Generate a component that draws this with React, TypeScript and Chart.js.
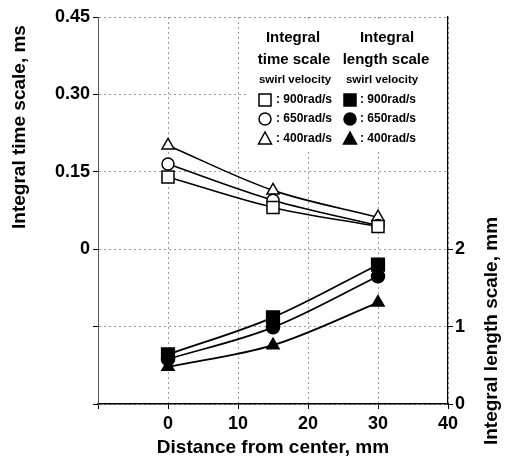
import React, { useEffect, useRef } from 'react';
import { Chart, registerables } from 'chart.js';

Chart.register(...registerables);

const FONT = "'Liberation Sans', Arial, Helvetica, sans-serif";

// ---- data ----
const distances = [0, 15, 30];
const timeScale900 = [0.14, 0.081, 0.044];
const timeScale650 = [0.165, 0.095, 0.046];
const timeScale400 = [0.201, 0.114, 0.062];
const lengthScale900 = [0.64, 1.12, 1.8];
const lengthScale650 = [0.58, 0.99, 1.65];
const lengthScale400 = [0.48, 0.76, 1.31];

const xTickValues = [-10, 0, 10, 20, 30, 40];
const xTickLabels = ['', '0', '10', '20', '30', '40'];
const leftTickValues = [-0.3, -0.15, 0, 0.15, 0.3, 0.45];
const leftTickLabels = ['', '', '0', '0.15', '0.30', '0.45'];
const rightTickValues = [0, 1, 2, 3, 4, 5];
const rightTickLabels = ['0', '1', '2', '', '', ''];

const velocityLabels = ['900rad/s', '650rad/s', '400rad/s'];
const markerStyles = ['rect', 'circle', 'triangle'];

const toPoints = (ys: number[]) => distances.map((x, i) => ({ x, y: ys[i] }));

function drawMarker(ctx: CanvasRenderingContext2D, style: string, x: number, y: number, filled: boolean) {
  ctx.save();
  ctx.lineWidth = 1.5;
  ctx.strokeStyle = '#000';
  ctx.fillStyle = filled ? '#000' : '#fff';
  ctx.beginPath();
  if (style === 'rect') {
    ctx.rect(x - 6, y - 6, 12, 12);
  } else if (style === 'circle') {
    ctx.arc(x, y, 6, 0, Math.PI * 2);
  } else {
    ctx.moveTo(x, y - 7);
    ctx.lineTo(x + 6.5, y + 5);
    ctx.lineTo(x - 6.5, y + 5);
    ctx.closePath();
  }
  ctx.fill();
  ctx.stroke();
  ctx.restore();
}

const legendPlugin = {
  id: 'customLegend',
  beforeDatasetsDraw(chart: any) {
    const ctx: CanvasRenderingContext2D = chart.ctx;
    ctx.save();
    ctx.fillStyle = '#fff';
    ctx.fillRect(246, 19, 200, 132);
    ctx.fillStyle = '#000';
    ctx.textAlign = 'center';
    ctx.textBaseline = 'middle';
    ctx.font = `bold 15px ${FONT}`;
    ctx.fillText('Integral', 293, 38);
    ctx.fillText('time scale', 294, 60);
    ctx.fillText('Integral', 387, 38);
    ctx.fillText('length scale', 386, 60);
    ctx.font = `bold 11.5px ${FONT}`;
    ctx.fillText('swirl velocity', 295, 80);
    ctx.fillText('swirl velocity', 382, 80);
    const rowsY = [100, 119, 139];
    ctx.textAlign = 'left';
    ctx.font = `bold 12px ${FONT}`;
    velocityLabels.forEach((lab, i) => {
      drawMarker(ctx, markerStyles[i], 265, rowsY[i], false);
      ctx.fillStyle = '#000';
      ctx.fillText(': ' + lab, 276, rowsY[i]);
      drawMarker(ctx, markerStyles[i], 350, rowsY[i], true);
      ctx.fillStyle = '#000';
      ctx.fillText(': ' + lab, 360, rowsY[i]);
    });
    ctx.restore();
  },
  afterDraw(chart: any) {
    const ctx: CanvasRenderingContext2D = chart.ctx;
    ctx.save();
    ctx.fillStyle = '#000';
    ctx.font = `bold 19px ${FONT}`;
    ctx.textAlign = 'center';
    ctx.textBaseline = 'middle';
    ctx.fillText('Distance from center, mm', 273, 448);
    ctx.save();
    ctx.translate(20, 127);
    ctx.rotate(-Math.PI / 2);
    ctx.fillText('Integral time scale, ms', 0, 0);
    ctx.restore();
    ctx.save();
    ctx.translate(492, 331);
    ctx.rotate(-Math.PI / 2);
    ctx.fillText('Integral length scale, mm', 0, 0);
    ctx.restore();
    ctx.restore();
  },
};

export default function App() {
  const canvasRef = useRef<HTMLCanvasElement | null>(null);

  useEffect(() => {
    const canvas = canvasRef.current;
    if (!canvas) return;

    const openDs = (data: number[], style: string, radius: number) => ({
      data: toPoints(data),
      yAxisID: 'y',
      borderColor: '#000',
      borderWidth: 1.6,
      pointStyle: style,
      pointRadius: radius,
      pointBackgroundColor: '#fff',
      pointBorderColor: '#000',
      pointBorderWidth: 1.5,
      cubicInterpolationMode: 'monotone',
      fill: false,
    });
    const filledDs = (data: number[], style: string, radius: number) => ({
      data: toPoints(data),
      yAxisID: 'y2',
      borderColor: '#000',
      borderWidth: 1.8,
      pointStyle: style,
      pointRadius: radius,
      pointBackgroundColor: '#000',
      pointBorderColor: '#000',
      pointBorderWidth: 1.5,
      cubicInterpolationMode: 'monotone',
      fill: false,
    });

    const tickFont = { family: FONT, size: 18, weight: 'bold' as const };

    const chart = new Chart(canvas, {
      type: 'line',
      data: {
        datasets: [
          openDs(timeScale900, 'rect', 8.5),
          openDs(timeScale650, 'circle', 6),
          openDs(timeScale400, 'triangle', 7),
          filledDs(lengthScale900, 'rect', 9),
          filledDs(lengthScale650, 'circle', 6.5),
          filledDs(lengthScale400, 'triangle', 7),
        ] as any,
      },
      options: {
        animation: false,
        responsive: false,
        devicePixelRatio: 1,
        layout: { padding: { top: 17, left: 0, right: 0, bottom: 0 } },
        plugins: { legend: { display: false }, tooltip: { enabled: false } },
        scales: {
          x: {
            type: 'linear',
            min: -10,
            max: 40,
            afterBuildTicks: (scale: any) => {
              scale.ticks = xTickValues.map((v) => ({ value: v }));
            },
            afterFit: (scale: any) => {
              scale.height = 56;
            },
            ticks: {
              font: tickFont,
              color: '#000',
              padding: 4,
              maxRotation: 0,
              callback: (v: any) => xTickLabels[xTickValues.indexOf(Number(v))] ?? '',
            },
            grid: { color: '#999', lineWidth: 1, tickLength: 5, tickColor: '#000' },
            border: { display: true, color: '#000', width: 1.5, dash: [2, 3] },
          },
          y: {
            type: 'linear',
            position: 'left',
            min: -0.3,
            max: 0.45,
            afterBuildTicks: (scale: any) => {
              scale.ticks = leftTickValues.map((v) => ({ value: v }));
            },
            afterFit: (scale: any) => {
              scale.width = 98;
            },
            ticks: {
              font: tickFont,
              color: '#000',
              padding: 3,
              callback: (v: any, i: number) => leftTickLabels[i] ?? '',
            },
            grid: { color: '#999', lineWidth: 1, tickLength: 5, tickColor: '#000' },
            border: { display: true, color: '#555', width: 1, dash: [2, 3] },
          },
          y2: {
            type: 'linear',
            position: 'right',
            min: 0,
            max: 5,
            afterBuildTicks: (scale: any) => {
              scale.ticks = rightTickValues.map((v) => ({ value: v }));
            },
            afterFit: (scale: any) => {
              scale.width = 57;
            },
            ticks: {
              font: tickFont,
              color: '#000',
              padding: 2,
              callback: (v: any, i: number) => rightTickLabels[i] ?? '',
            },
            grid: {
              drawOnChartArea: false,
              tickLength: 5,
              tickColor: (c: any) => (c.tick && c.tick.value <= 2 ? '#000' : 'rgba(0,0,0,0)'),
            },
            border: { display: true, color: '#000', width: 1.2 },
          },
        },
      } as any,
      plugins: [legendPlugin],
    });

    return () => chart.destroy();
  }, []);

  return (
    <div style={{ position: 'fixed', left: 0, top: 0, width: 505, height: 460, background: '#fff' }}>
      <canvas ref={canvasRef} width={505} height={460} style={{ display: 'block' }} />
    </div>
  );
}
